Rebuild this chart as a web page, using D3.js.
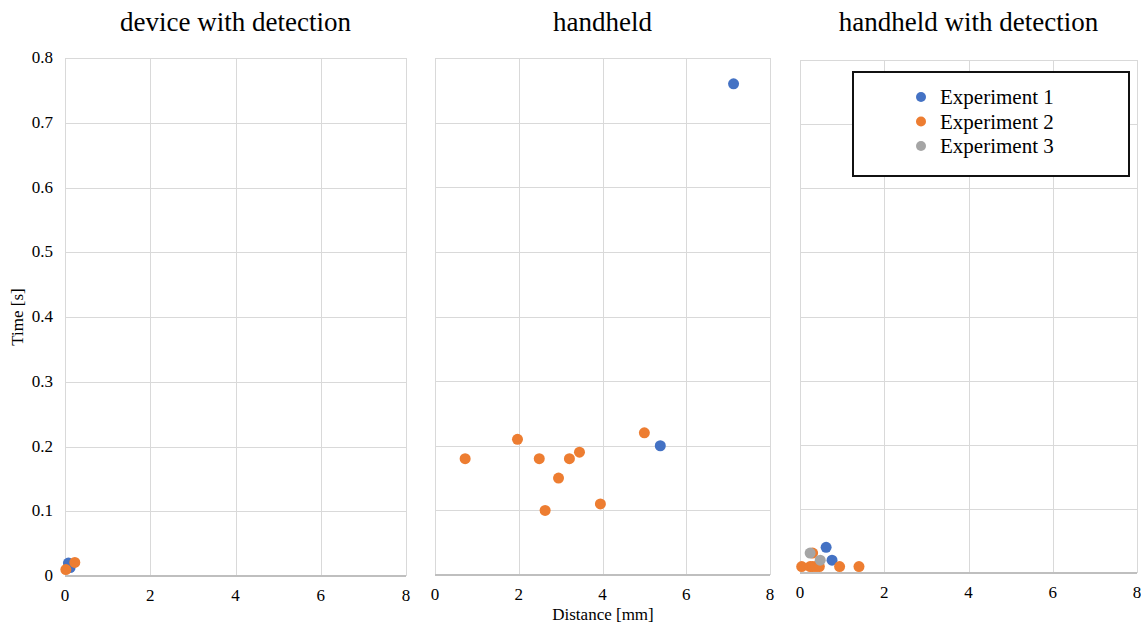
<!DOCTYPE html>
<meta charset="utf-8">
<style>
    body { margin: 0; background: #fff; }
    text { font-family: "Liberation Serif", "Times New Roman", serif; fill: #000; }
    .title { font-size: 27px; text-anchor: middle; }
    .tick-label { font-size: 17px; }
    .axis-title { font-size: 17px; text-anchor: middle; }
    .grid { stroke: #d9d9d9; stroke-width: 1; shape-rendering: crispEdges; }
    .baseline { stroke: #bfbfbf; stroke-width: 1.5; shape-rendering: crispEdges; }
    .legend-text { font-size: 21px; }
</style>
<svg width="1141" height="624"></svg>
<script src="https://d3js.org/d3.v7.min.js"></script>
<script>

    // panel titles
    var panelTitles = ["device with detection", "handheld", "handheld with detection"];
    var seriesNames = ["Experiment 1", "Experiment 2", "Experiment 3"];
    var seriesColors = ["#4472c4", "#ed7d31", "#a5a5a5"];
    var xTicks = [0, 2, 4, 6, 8];
    var yTicks = [0, 0.1, 0.2, 0.3, 0.4, 0.5, 0.6, 0.7, 0.8];

    // device with detection
    var p1Exp1X = [0.08, 0.12];
    var p1Exp1Y = [0.02, 0.013];
    var p1Exp2X = [0.23, 0.02];
    var p1Exp2Y = [0.021, 0.01];

    // handheld
    var p2Exp1X = [5.38, 7.13];
    var p2Exp1Y = [0.20, 0.76];
    var p2Exp2X = [0.72, 1.97, 2.49, 2.63, 2.95, 3.21, 3.45, 3.95, 5.0];
    var p2Exp2Y = [0.18, 0.21, 0.18, 0.10, 0.15, 0.18, 0.19, 0.11, 0.22];

    // handheld with detection
    var p3Exp1X = [0.62, 0.76];
    var p3Exp1Y = [0.04, 0.02];
    var p3Exp2X = [0.04, 0.24, 0.30, 0.38, 0.46, 0.94, 1.4, 0.30];
    var p3Exp2Y = [0.01, 0.01, 0.01, 0.01, 0.01, 0.01, 0.01, 0.031];
    var p3Exp3X = [0.24, 0.48];
    var p3Exp3Y = [0.031, 0.02];

    function zip(xs, ys) {
        return xs.map(function (x, i) { return {x: x, y: ys[i]}; });
    }

    var panels = [
        {title: panelTitles[0], left: 65, right: 406, top: 58, bottom: 576, yLabels: true,
            series: [zip(p1Exp1X, p1Exp1Y), zip(p1Exp2X, p1Exp2Y), []]},
        {title: panelTitles[1], left: 435, right: 770, top: 58, bottom: 575, yLabels: false,
            series: [zip(p2Exp1X, p2Exp1Y), zip(p2Exp2X, p2Exp2Y), []]},
        {title: panelTitles[2], left: 800, right: 1137, top: 60, bottom: 573, yLabels: false,
            series: [zip(p3Exp1X, p3Exp1Y), zip(p3Exp2X, p3Exp2Y), zip(p3Exp3X, p3Exp3Y)]}
    ];

    var svg = d3.select("svg");

    panels.forEach(function (p) {
        var x = d3.scaleLinear().domain([0, 8]).range([p.left, p.right]);
        var y = d3.scaleLinear().domain([0, 0.8]).range([p.bottom, p.top]);
        var g = svg.append("g");

        g.append("text").attr("class", "title")
            .attr("x", (p.left + p.right) / 2).attr("y", 31)
            .text(p.title);

        // horizontal gridlines
        g.selectAll(".hgrid").data(yTicks.slice(1)).enter().append("line")
            .attr("class", "grid")
            .attr("x1", p.left).attr("x2", p.right)
            .attr("y1", function (d) { return Math.round(y(d)) + 0.5; })
            .attr("y2", function (d) { return Math.round(y(d)) + 0.5; });

        // vertical gridlines
        g.selectAll(".vgrid").data(xTicks).enter().append("line")
            .attr("class", "grid")
            .attr("x1", function (d) { return Math.round(x(d)) + 0.5; })
            .attr("x2", function (d) { return Math.round(x(d)) + 0.5; })
            .attr("y1", p.top).attr("y2", p.bottom);

        g.append("line").attr("class", "baseline")
            .attr("x1", p.left).attr("x2", p.right)
            .attr("y1", p.bottom).attr("y2", p.bottom);

        g.selectAll(".xlab").data(xTicks).enter().append("text")
            .attr("class", "tick-label")
            .attr("text-anchor", "middle")
            .attr("x", function (d) { return x(d); })
            .attr("y", p.bottom + 25)
            .text(function (d) { return d; });

        if (p.yLabels) {
            g.selectAll(".ylab").data(yTicks).enter().append("text")
                .attr("class", "tick-label")
                .attr("text-anchor", "end")
                .attr("x", p.left - 12)
                .attr("y", function (d) { return y(d) + 5; })
                .text(function (d) { return d === 0 ? "0" : d3.format(".1f")(d); });
        }

        p.series.forEach(function (pts, si) {
            g.selectAll(".dot" + si).data(pts).enter().append("circle")
                .attr("cx", function (d) { return x(d.x); })
                .attr("cy", function (d) { return y(d.y); })
                .attr("r", 5.5)
                .attr("fill", seriesColors[si]);
        });
    });

    svg.append("text").attr("class", "axis-title")
        .attr("x", 603).attr("y", 620)
        .text("Distance [mm]");

    svg.append("text").attr("class", "axis-title")
        .attr("transform", "translate(23,317) rotate(-90)")
        .text("Time [s]");

    // legend
    var legend = svg.append("g").attr("transform", "translate(853,72)");
    legend.append("rect")
        .attr("width", 276).attr("height", 104)
        .attr("fill", "#fff").attr("stroke", "#111").attr("stroke-width", 2);
    var items = legend.selectAll(".item").data(seriesNames).enter().append("g")
        .attr("transform", function (d, i) { return "translate(0," + (25 + i * 24.5) + ")"; });
    items.append("circle").attr("cx", 68).attr("cy", 0).attr("r", 5)
        .attr("fill", function (d, i) { return seriesColors[i]; });
    items.append("text").attr("class", "legend-text")
        .attr("x", 87).attr("y", 7)
        .text(function (d) { return d; });

</script>
